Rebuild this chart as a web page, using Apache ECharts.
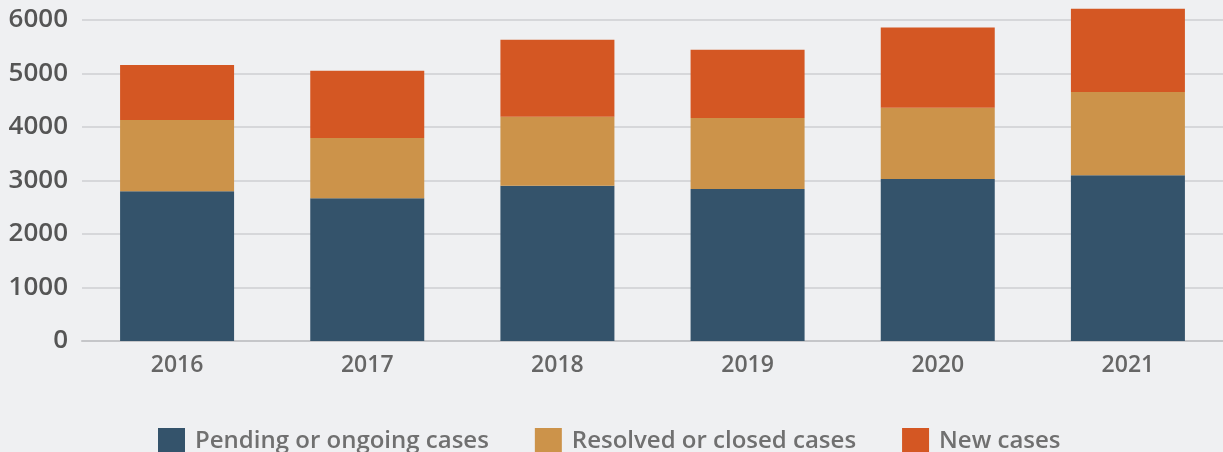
<!DOCTYPE html>
<html>
<head>
<meta charset="utf-8">
<script src="https://cdn.jsdelivr.net/npm/echarts@6/dist/echarts.min.js"></script>
<style>
  html, body { margin: 0; padding: 0; background: #eff0f2; }
  #chart { width: 1223px; height: 452px; }
</style>
</head>
<body>
<div id="chart"></div>
<script>
// years on the x axis
var years = ["2016", "2017", "2018", "2019", "2020", "2021"];
// stacked case counts
var pending = [2800, 2670, 2900, 2840, 3030, 3100];
var resolved = [1330, 1125, 1290, 1330, 1330, 1555];
var newCases = [1030, 1255, 1440, 1275, 1500, 1555];
var seriesNames = ["Pending or ongoing cases", "Resolved or closed cases", "New cases"];
var colors = ["#34536b", "#cc934a", "#d45723"];

var chart = echarts.init(document.getElementById("chart"));

function barSeries(name, data, color) {
  return {
    name: name,
    type: "bar",
    stack: "total",
    barWidth: 114,
    clip: false,
    itemStyle: { color: color },
    data: data
  };
}

chart.setOption({
  backgroundColor: "#eff0f2",
  animation: false,
  textStyle: { fontFamily: "Open Sans" },
  grid: { left: 82, right: -2, top: 20, bottom: 111 },
  legend: {
    left: 153,
    top: 423,
    itemWidth: 27,
    itemHeight: 26,
    itemGap: 46,
    icon: "rect",
    textStyle: { fontSize: 24, fontWeight: 600, color: "#707070", padding: [0, 0, 0, 5] },
    data: seriesNames
  },
  xAxis: {
    type: "category",
    data: years,
    axisTick: { show: false },
    axisLine: { lineStyle: { color: "#c5c6c9", width: 2 } },
    axisLabel: { margin: 13, fontSize: 23, fontWeight: 600, color: "#666666" }
  },
  yAxis: {
    type: "value",
    min: 0,
    max: 6000,
    interval: 1000,
    axisLine: { show: false },
    axisTick: { show: false },
    splitLine: { lineStyle: { color: "#d6d7da", width: 2 } },
    axisLabel: {
      margin: 14,
      fontSize: 26,
      fontWeight: 600,
      color: "#555555",
      formatter: function (v) { return String(v); }
    }
  },
  series: [
    barSeries(seriesNames[0], pending, colors[0]),
    barSeries(seriesNames[1], resolved, colors[1]),
    barSeries(seriesNames[2], newCases, colors[2])
  ]
});
</script>
</body>
</html>
